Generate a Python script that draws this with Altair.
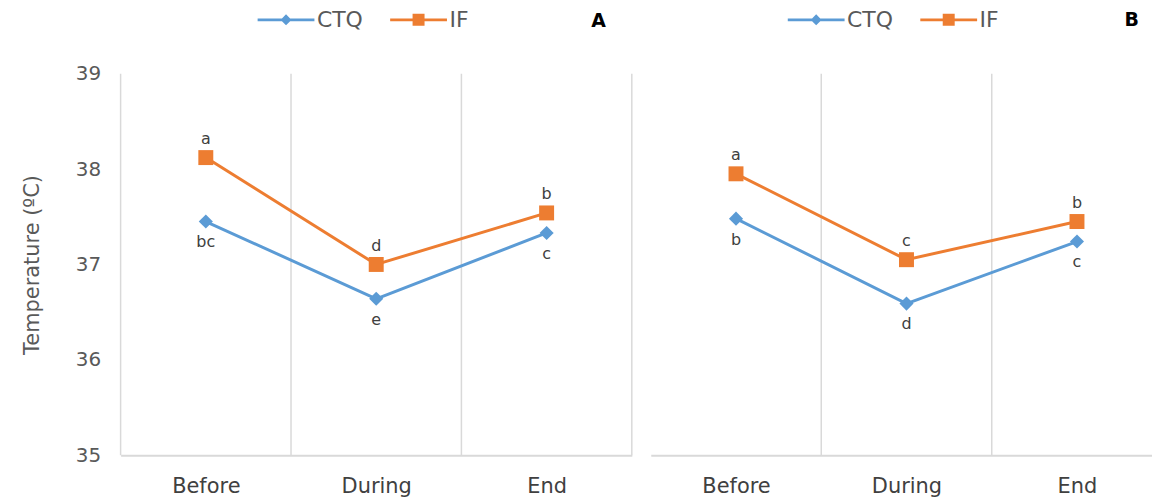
import altair as alt
import pandas as pd

phases = ["Before", "During", "End"]
phase_pos = [0.5, 1.5, 2.5]
series_names = ["CTQ", "IF"]
colors = ["#5B9BD5", "#ED7D31"]

a_ctq = [37.45, 36.64, 37.33]
a_if = [38.12, 37.00, 37.54]
b_ctq = [37.48, 36.59, 37.24]
b_if = [37.95, 37.05, 37.45]

a_ctq_letters = ["bc", "e", "c"]
a_if_letters = ["a", "d", "b"]
b_ctq_letters = ["b", "d", "c"]
b_if_letters = ["a", "c", "b"]

y_ticks = [35, 36, 37, 38, 39]
boundaries_a = [0, 1, 2, 3]
boundaries_b = [1, 2]

# legend symbols: line segment with marker (unit coords)
legend_paths = [
    "M-2.85,-0.14H-0.41L0,-0.55L0.41,-0.14H2.85V0.14H0.41L0,0.55L-0.41,0.14H-2.85Z",
    "M-2.85,-0.14H-0.6V-0.6H0.6V-0.14H2.85V0.14H0.6V0.6H-0.6V0.14H-2.85Z",
]

FONT = "DejaVu Sans"
label_expr = " : ".join(
    f"datum.value == {p} ? '{n}'" for p, n in zip(phase_pos[:-1], phases[:-1])
) + f" : '{phases[-1]}'"


def make_df(ctq, iff, ctq_l, if_l):
    rows = []
    for i, ph in enumerate(phases):
        rows.append(dict(phase=ph, pos=phase_pos[i], series="CTQ", value=ctq[i], letter=ctq_l[i]))
        rows.append(dict(phase=ph, pos=phase_pos[i], series="IF", value=iff[i], letter=if_l[i]))
    return pd.DataFrame(rows)


def panel(df, boundaries, xmax, width, letter, title_dx, title_offset, show_y):
    xs = alt.Scale(domain=[0, xmax], nice=False, zero=False)
    ys = alt.Scale(domain=[35, 39], nice=False, zero=False)
    if show_y:
        yaxis = alt.Axis(values=y_ticks, format="d", grid=False, ticks=False, domain=False,
                         labelFontSize=20, labelColor="#595959", labelPadding=20,
                         labelFont=FONT, title="Temperature (ºC)", titleFontSize=21,
                         titleFontWeight="normal", titleColor="#595959", titleFont=FONT,
                         titlePadding=33)
    else:
        yaxis = None
    xaxis = alt.Axis(values=phase_pos, labelExpr=label_expr, grid=False, ticks=False,
                     domain=True, domainColor="#d9d9d9", domainWidth=2,
                     labelFontSize=21, labelColor="#404040", labelFont=FONT,
                     labelPadding=20, title=None)

    base = alt.Chart(df)
    bdf = pd.DataFrame({"b": boundaries})
    layers = [
        alt.Chart(bdf).mark_rule(color="#d9d9d9", strokeWidth=1.5).encode(
            x=alt.X("b:Q", scale=xs, axis=xaxis)
        )
    ]
    shapes = {"CTQ": ("diamond", 200), "IF": ("square", 225)}
    for name, col in zip(series_names, colors):
        sub = base.transform_filter(alt.datum.series == name)
        layers.append(sub.mark_line(strokeWidth=3, color=col).encode(
            x=alt.X("pos:Q", scale=xs, axis=xaxis),
            y=alt.Y("value:Q", scale=ys, axis=yaxis),
        ))
    for name, col in zip(series_names, colors):
        sub = base.transform_filter(alt.datum.series == name)
        shp, sz = shapes[name]
        layers.append(sub.mark_point(shape=shp, filled=True, size=sz, opacity=1, color=col).encode(
            x="pos:Q", y="value:Q"))
    for name, dy in zip(series_names, [21, -19]):
        sub = base.transform_filter(alt.datum.series == name)
        layers.append(sub.mark_text(dy=dy, fontSize=16, color="#404040", font=FONT).encode(
            x="pos:Q", y="value:Q", text="letter:N"))

    leg_props = dict(orient="none", legendX=155, legendY=-65, direction="horizontal",
                     title=None, symbolSize=400, symbolOpacity=1, symbolStrokeWidth=0,
                     labelFontSize=22, labelColor="#595959", labelFont=FONT,
                     labelOffset=20, columnPadding=26)
    layers.append(base.mark_point(filled=True, opacity=0).encode(
        x="pos:Q", y="value:Q",
        color=alt.Color("series:N", scale=alt.Scale(domain=series_names, range=colors),
                        legend=alt.Legend(**leg_props)),
        shape=alt.Shape("series:N", scale=alt.Scale(domain=series_names, range=legend_paths),
                        legend=alt.Legend(**leg_props)),
    ))
    return alt.layer(*layers).properties(
        width=width, height=383,
        title=alt.TitleParams(letter, anchor="end", fontSize=19, fontWeight="bold",
                              color="#000000", font=FONT, dx=title_dx, offset=title_offset,
                              frame="group"),
    )


dfa = make_df(a_ctq, a_if, a_ctq_letters, a_if_letters)
dfb = make_df(b_ctq, b_if, b_ctq_letters, b_if_letters)

pa = panel(dfa, boundaries_a, 3, 513, "A", -26, -22, True)
pb = panel(dfb, boundaries_b, 2.94, 503, "B", -13, -21, False)

chart = alt.hconcat(pa, pb, spacing=18).resolve_scale(
    x="independent", color="independent", shape="independent"
).resolve_legend(color="independent", shape="independent").properties(
    padding={"left": 13, "top": 0, "right": 0, "bottom": 0},
    background="white",
).configure_view(stroke=None)

chart.save("out.html", embed_options={"renderer": "svg", "actions": False})
